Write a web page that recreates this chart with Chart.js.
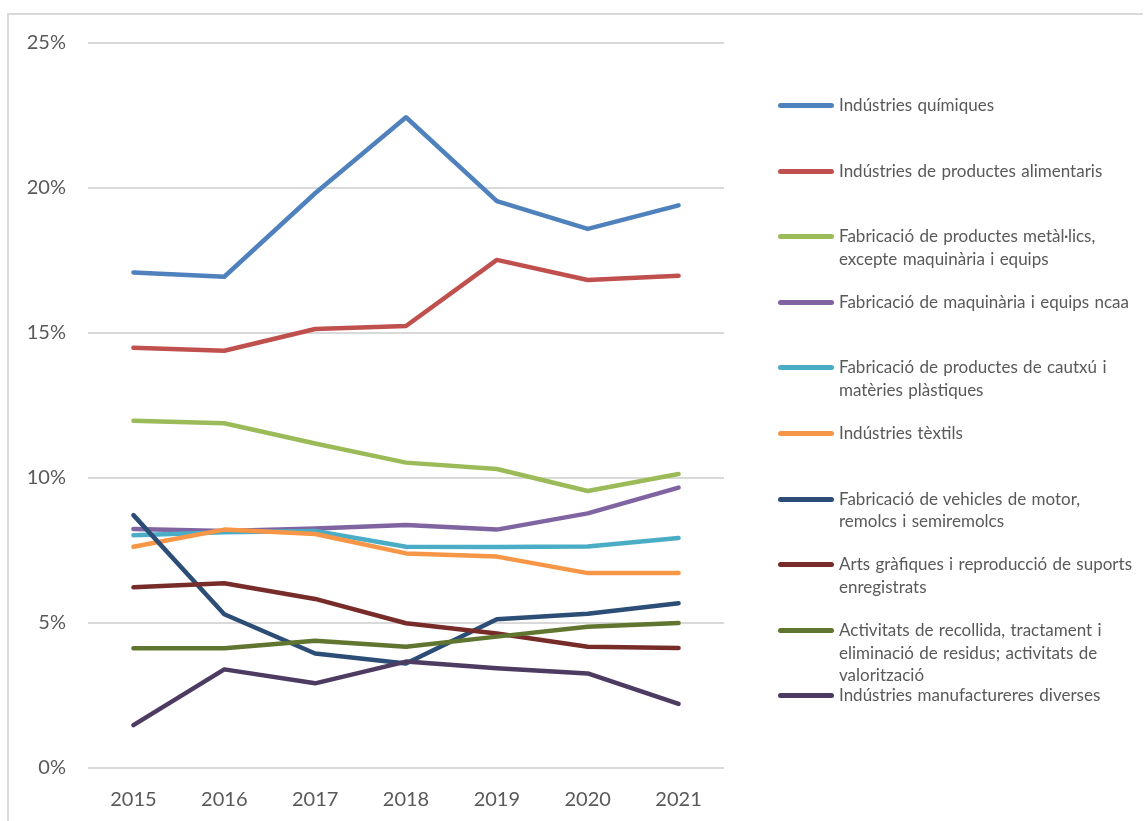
<!DOCTYPE html>
<html>
<head>
<meta charset="utf-8">
<script src="https://cdn.jsdelivr.net/npm/chart.js@4.4.1/dist/chart.umd.min.js"></script>
<style>
  html, body { margin: 0; padding: 0; background: #fff; }
  #wrap { position: relative; width: 1144px; height: 821px; overflow: hidden; }
  #frame { position: absolute; left: 7px; top: 13px; width: 1136px; height: 820px;
    border-top: 2px solid #d9d9d9; border-left: 2px solid #d9d9d9; box-sizing: border-box; }
  #chart { position: absolute; left: 0; top: 0; }
  #legend { position: absolute; left: 0; top: 0; width: 1144px; height: 821px; pointer-events: none; }
  .item { position: absolute; left: 778px; font-family: Lato, "Open Sans", sans-serif;
    font-size: 17px; word-spacing: 1px; line-height: 22.7px; color: #595959; white-space: nowrap; }
  .item .sw { position: absolute; left: 0; top: 9px; width: 56px; height: 5px; border-radius: 3px; }
  .item .tx { position: absolute; left: 61px; top: 0; }
</style>
</head>
<body>
<div id="wrap">
  <div id="frame"></div>
  <canvas id="chart" width="1144" height="821"></canvas>
  <div id="legend"></div>
</div>
<script>
// categories and series (share in %)
const years = ['2015', '2016', '2017', '2018', '2019', '2020', '2021'];
const yTicks = [0, 5, 10, 15, 20, 25];

const quimiques    = [17.09, 16.94, 19.82, 22.44, 19.55, 18.59, 19.40];
const alimentaris  = [14.49, 14.39, 15.14, 15.24, 17.52, 16.83, 16.97];
const metalics     = [11.97, 11.89, 11.19, 10.53, 10.31, 9.55, 10.14];
const maquinaria   = [8.24, 8.17, 8.26, 8.38, 8.22, 8.78, 9.67];
const cautxu       = [8.03, 8.13, 8.17, 7.63, 7.62, 7.64, 7.93];
const textils      = [7.63, 8.22, 8.07, 7.40, 7.29, 6.72, 6.72];
const vehicles     = [8.72, 5.30, 3.95, 3.60, 5.13, 5.32, 5.68];
const artsGrafiques = [6.23, 6.37, 5.83, 4.99, 4.64, 4.18, 4.14];
const residus      = [4.13, 4.13, 4.39, 4.18, 4.53, 4.87, 5.00];
const diverses     = [1.48, 3.40, 2.92, 3.67, 3.44, 3.26, 2.21];

const seriesLabels = [
  ['Indústries químiques'],
  ['Indústries de productes alimentaris'],
  ['Fabricació de productes metàl·lics,', 'excepte maquinària i equips'],
  ['Fabricació de maquinària i equips ncaa'],
  ['Fabricació de productes de cautxú i', 'matèries plàstiques'],
  ['Indústries tèxtils'],
  ['Fabricació de vehicles de motor,', 'remolcs i semiremolcs'],
  ['Arts gràfiques i reproducció de suports', 'enregistrats'],
  ['Activitats de recollida, tractament i', 'eliminació de residus; activitats de', 'valorització'],
  ['Indústries manufactureres diverses']
];
const seriesData = [quimiques, alimentaris, metalics, maquinaria, cautxu, textils,
  vehicles, artsGrafiques, residus, diverses];
const colors = ['#4F81BD', '#C0504D', '#9BBB59', '#8064A2', '#4BACC6', '#F79646',
  '#2C4D75', '#772C2A', '#5F7530', '#4D3B62'];

const datasets = seriesData.map((d, i) => ({
  label: seriesLabels[i].join(' '),
  data: d,
  borderColor: colors[i],
  backgroundColor: colors[i],
  borderWidth: 4.5,
  pointRadius: 0,
  tension: 0,
  borderCapStyle: 'round',
  borderJoinStyle: 'round'
}));

// draw lowest legend entry first so upper series end up on top like Excel
datasets.forEach((ds, i) => { ds.order = -i; });

new Chart(document.getElementById('chart'), {
  type: 'line',
  data: { labels: years, datasets: datasets },
  options: {
    responsive: false,
    animation: false,
    layout: { padding: { left: 0, right: 420, top: 43, bottom: 0 } },
    plugins: { legend: { display: false }, tooltip: { enabled: false } },
    scales: {
      x: {
        offset: true,
        grid: { display: false, drawTicks: false },
        border: { display: false },
        ticks: { color: '#595959', padding: 20, font: { family: 'Lato', size: 20 } },
        afterFit: scale => { scale.height = 53; }
      },
      y: {
        min: 0, max: 25,
        afterBuildTicks: scale => { scale.ticks = yTicks.map(v => ({ value: v })); },
        grid: { color: '#d9d9d9', lineWidth: 2, drawTicks: false },
        border: { display: false },
        ticks: { color: '#595959', padding: 22, font: { family: 'Lato', size: 20 },
          callback: v => v + '%' },
        afterFit: scale => { scale.width = 88; }
      }
    }
  }
});

// legend on the right
const legend = document.getElementById('legend');
seriesLabels.forEach((lines, i) => {
  const item = document.createElement('div');
  item.className = 'item';
  item.style.top = (105 + i * 65.6 - 11) + 'px';
  item.innerHTML = '<div class="sw" style="background:' + colors[i] + '"></div>' +
    '<div class="tx">' + lines.join('<br>') + '</div>';
  legend.appendChild(item);
});
</script>
</body>
</html>
